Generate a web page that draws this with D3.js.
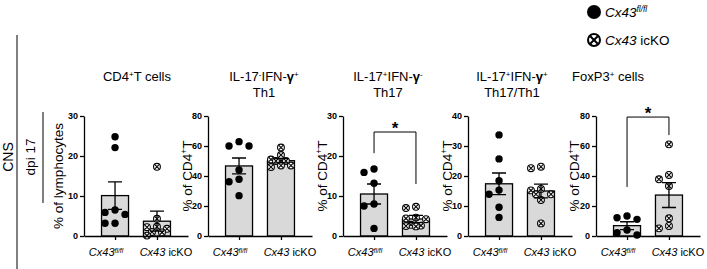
<!DOCTYPE html>
<html>
<head>
<meta charset="utf-8">
<script src="https://cdn.jsdelivr.net/npm/d3@7"></script>
<style>
  body { margin: 0; background: #fff; }
  svg { font-family: "Liberation Sans", Arial, sans-serif; display: block; }
</style>
</head>
<body>
<div id="chart"></div>
<script>
// data
const groups = ["fl", "ko"];
const yMaxes = [30, 80, 30, 40, 80];
const yTickVals = [[0, 10, 20, 30], [0, 20, 40, 60, 80], [0, 10, 20, 30], [0, 10, 20, 30, 40], [0, 20, 40, 60, 80]];
const flMean = [10.1, 46.7, 10.5, 17.4, 6.9];
const flSem = [3.45, 5.3, 2.5, 3.6, 2.6];
const koMean = [3.7, 50.2, 4.25, 15.0, 27.3];
const koSem = [2.5, 1.4, 0.9, 2.3, 8.3];
const flPoints = [
    [24.8, 22.1, 6.5, 5.9, 5.4, 3.2, 3.2],
    [62.9, 60, 60, 44, 37.8, 36.2, 26.9],
    [16.75, 15.9, 13.2, 8, 7.5, 1.9],
    [33.7, 25.7, 18.4, 15.3, 13.9, 9.6, 6.2],
    [13.3, 12.2, 11.1, 4, 2.2, 0.7]
];
const koPoints = [
    [17.3, 4.3, 2.3, 2.2, 1.8, 1.0, 0.9, 0.1],
    [59, 54, 51, 50, 50, 47, 47, 46],
    [7.3, 7.0, 4.6, 4.4, 4.2, 2.8, 2.6, 2.5, 2.4],
    [23.1, 22.6, 15.7, 15.2, 13.9, 13.9, 12, 4.2],
    [61.1, 40.7, 37.8, 33.3, 11.8, 6.7, 5.1]
];
// significance brackets in data units: top, left end, right end
const brackets = [null, null, { top: 26, left: 20.7, right: 13 }, null, { top: 79.3, left: 32.7, right: 67.3 }];

// layout
const W = 707, H = 269;
const panelLeft = [84, 208, 343, 468, 596];
const titleX = [137, 264, 388, 512, 608];
const yTop = 116, yBottom = 236;
const font = '"Liberation Sans", Arial, sans-serif';

const svg = d3.select("#chart").append("svg")
    .attr("width", W)
    .attr("height", H);

svg.append("rect").attr("width", W).attr("height", H).attr("fill", "#fff");

// helper to write a text with pieces [text, style]
function richText(sel, parts, size) {
    parts.forEach(p => {
        const t = sel.append("tspan").text(p.t);
        if (p.sup) t.attr("baseline-shift", "super").style("font-size", (size * 0.62) + "px");
        if (p.b) t.style("font-weight", "bold");
        if (p.i) t.style("font-style", "italic");
    });
}

const titles = [
    [[{ t: "CD4" }, { t: "+", sup: 1 }, { t: "T cells" }]],
    [[{ t: "IL-17" }, { t: "-", sup: 1 }, { t: "IFN-" }, { t: "γ", b: 1 }, { t: "+", sup: 1 }], [{ t: "Th1" }]],
    [[{ t: "IL-17" }, { t: "+", sup: 1 }, { t: "IFN-" }, { t: "γ", b: 1 }, { t: "-", sup: 1 }], [{ t: "Th17" }]],
    [[{ t: "IL-17" }, { t: "+", sup: 1 }, { t: "IFN-" }, { t: "γ", b: 1 }, { t: "+", sup: 1 }], [{ t: "Th17/Th1" }]],
    [[{ t: "FoxP3" }, { t: "+", sup: 1 }, { t: " cells" }]]
];
const yTitles = [
    [{ t: "% of lymphocytes" }],
    [{ t: "% of CD4" }, { t: "+", sup: 1 }, { t: "T" }],
    [{ t: "% of CD4" }, { t: "+", sup: 1 }, { t: "T" }],
    [{ t: "% of CD4" }, { t: "+", sup: 1 }, { t: "T" }],
    [{ t: "% of CD4" }, { t: "+", sup: 1 }, { t: "T" }]
];

function otimes(g, cx, cy, r, sw) {
    g.append("circle").attr("cx", cx).attr("cy", cy).attr("r", r)
        .attr("fill", "#fff").attr("stroke", "#000").attr("stroke-width", sw);
    const d = r * 0.62;
    g.append("path")
        .attr("d", `M${cx - d},${cy - d}L${cx + d},${cy + d}M${cx - d},${cy + d}L${cx + d},${cy - d}`)
        .attr("stroke", "#000").attr("stroke-width", sw);
}

// simple swarm so dots at similar values spread sideways, kept inside the bar
function swarm(values, y, step, minDist, maxOff) {
    const placed = [];
    values.forEach(v => {
        const py = y(v);
        let best = null, bestGap = -1;
        for (let k = 0; k < 20; k++) {
            const off = k === 0 ? 0 : (k % 2 ? -1 : 1) * Math.ceil(k / 2) * step;
            if (Math.abs(off) > maxOff) break;
            const gap = d3.min(placed, p => Math.hypot(p.dx - off, p.y - py)) ?? Infinity;
            if (gap >= minDist) { best = off; break; }
            if (gap > bestGap) { bestGap = gap; best = off; }
        }
        placed.push({ v: v, dx: best, y: py });
    });
    return placed;
}

for (let i = 0; i < 5; i++) {
    const g = svg.append("g").attr("transform", `translate(${panelLeft[i]},0)`);

    const x = d3.scalePoint().domain(groups).range([0, 104]).padding(0.74);
    const y = d3.scaleLinear().domain([0, yMaxes[i]]).range([yBottom, yTop]);
    const bw = 27;

    const means = [flMean[i], koMean[i]];
    const sems = [flSem[i], koSem[i]];

    // bars
    g.selectAll(".bar")
        .data(groups)
        .enter()
        .append("rect")
        .attr("x", d => x(d) - bw / 2)
        .attr("y", (d, j) => y(means[j]))
        .attr("width", bw)
        .attr("height", (d, j) => yBottom - y(means[j]))
        .attr("fill", "#d9d9d9")
        .attr("stroke", "#000")
        .attr("stroke-width", 1.3);

    // points
    const pts = [flPoints[i], koPoints[i]];
    groups.forEach((grp, j) => {
        const sw = swarm(pts[j], y, 5, 7.4, 13);
        sw.forEach(p => {
            if (j === 0) {
                g.append("circle").attr("cx", x(grp) + p.dx).attr("cy", p.y)
                    .attr("r", 3.7).attr("fill", "#000");
            } else {
                otimes(g, x(grp) + p.dx, p.y, 3.4, 1.1);
            }
        });
    });

    // error bars (mean ± SEM)
    groups.forEach((grp, j) => {
        const cx = x(grp);
        const top = y(means[j] + sems[j]), bot = y(Math.max(0, means[j] - sems[j]));
        g.append("path")
            .attr("d", `M${cx},${bot}L${cx},${top}M${cx - 7},${top}L${cx + 7},${top}M${cx - 7},${bot}L${cx + 7},${bot}`)
            .attr("stroke", "#000").attr("stroke-width", 1.3).attr("fill", "none");
    });

    // axes
    g.append("g")
        .attr("transform", `translate(0,${yBottom})`)
        .call(d3.axisBottom(x).tickSize(4).tickSizeOuter(0).tickFormat(""))
        .call(a => a.selectAll("path,line").attr("stroke", "#000").attr("stroke-width", 1.3));

    g.append("g")
        .call(d3.axisLeft(y).tickValues(yTickVals[i]).tickSize(4).tickSizeOuter(0).tickPadding(2))
        .call(a => a.selectAll("path,line").attr("stroke", "#000").attr("stroke-width", 1.3))
        .call(a => a.selectAll("text")
            .style("font-family", font)
            .style("font-size", "9px")
            .style("font-weight", "bold")
            .attr("fill", "#000"));

    // x labels
    const lab1 = g.append("text").attr("x", x("fl") - 9).attr("y", 256)
        .attr("text-anchor", "middle").style("font-size", "11px");
    richText(lab1, [{ t: "Cx43", i: 1 }, { t: "fl/fl", i: 1, sup: 1 }], 11);
    const lab2 = g.append("text").attr("x", x("ko") + 9).attr("y", 256)
        .attr("text-anchor", "middle").style("font-size", "11px");
    richText(lab2, [{ t: "Cx43", i: 1 }, { t: " icKO" }], 11);

    // y title
    const yt = g.append("text")
        .attr("transform", `translate(${i === 0 ? -26 : (i === 4 ? -22 : -21)},${(yTop + yBottom) / 2}) rotate(-90)`)
        .attr("text-anchor", "middle")
        .attr("dy", "0.35em")
        .style("font-size", "13.5px");
    richText(yt, yTitles[i], 13.5);

    // title
    titles[i].forEach((line, k) => {
        const t = svg.append("text")
            .attr("x", titleX[i])
            .attr("y", 81 + k * 16)
            .attr("text-anchor", "middle")
            .style("font-size", "13px");
        richText(t, line, 13);
    });

    // significance bracket
    const b = brackets[i];
    if (b) {
        const x1 = x("fl"), x2 = x("ko");
        g.append("path")
            .attr("d", `M${x1},${y(b.left)}L${x1},${y(b.top)}L${x2},${y(b.top)}L${x2},${y(b.right)}`)
            .attr("fill", "none").attr("stroke", "#000").attr("stroke-width", 1);
        g.append("text")
            .attr("x", (x1 + x2) / 2)
            .attr("y", y(b.top) + 2)
            .attr("text-anchor", "middle")
            .style("font-size", "17px")
            .style("font-weight", "bold")
            .text("*");
    }
}

// left side labels
svg.append("line").attr("x1", 17).attr("x2", 17).attr("y1", 35).attr("y2", H)
    .attr("stroke", "#000").attr("stroke-width", 1);
svg.append("line").attr("x1", 43).attr("x2", 43).attr("y1", 112).attr("y2", 203)
    .attr("stroke", "#000").attr("stroke-width", 1);
svg.append("text")
    .attr("transform", "translate(8,157) rotate(-90)")
    .attr("text-anchor", "middle").attr("dy", "0.35em")
    .style("font-size", "14px")
    .text("CNS");
svg.append("text")
    .attr("transform", "translate(30,157) rotate(-90)")
    .attr("text-anchor", "middle").attr("dy", "0.35em")
    .style("font-size", "13.5px")
    .text("dpi 17");

// legend
svg.append("circle").attr("cx", 594).attr("cy", 12).attr("r", 7).attr("fill", "#000");
otimes(svg, 594, 40, 6, 2);
const lg1 = svg.append("text").attr("x", 605).attr("y", 17).style("font-size", "13.5px");
richText(lg1, [{ t: "Cx43", i: 1 }, { t: "fl/fl", i: 1, sup: 1 }], 13.5);
const lg2 = svg.append("text").attr("x", 605).attr("y", 45).style("font-size", "13.5px");
richText(lg2, [{ t: "Cx43", i: 1 }, { t: " icKO" }], 13.5);
</script>
</body>
</html>
